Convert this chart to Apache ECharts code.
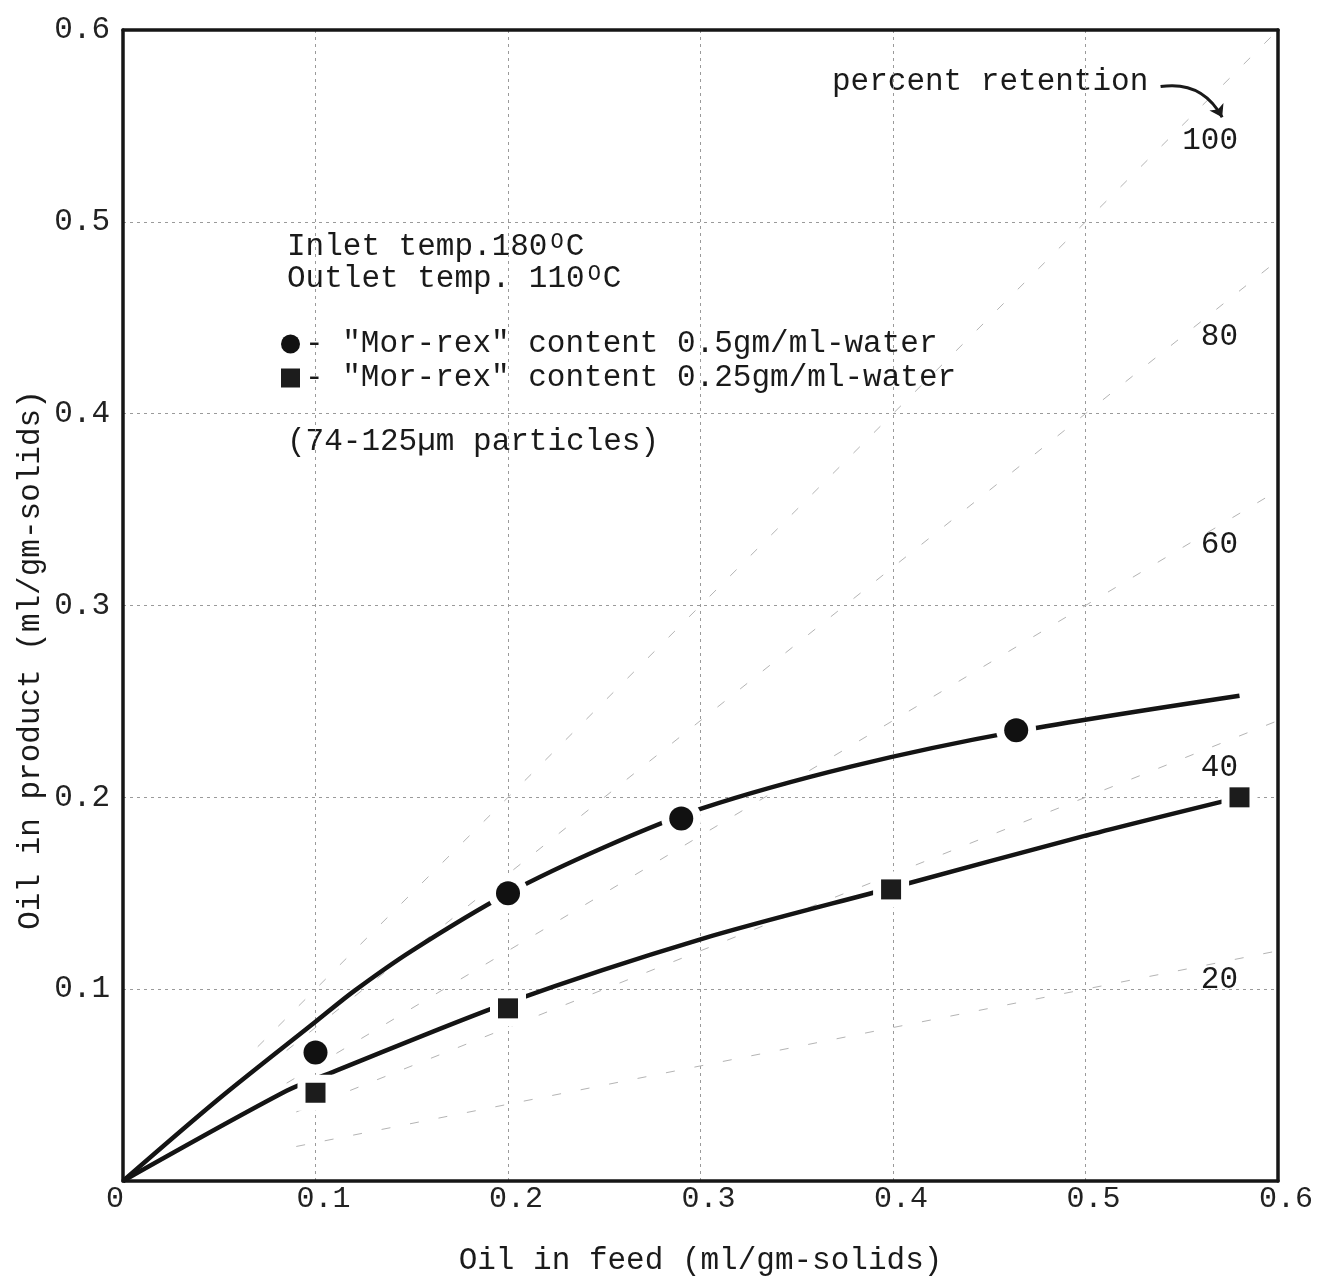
<!DOCTYPE html>
<html>
<head>
<meta charset="utf-8">
<script src="https://cdn.jsdelivr.net/npm/echarts@6/dist/echarts.min.js"></script>
<style>
  html, body { margin: 0; padding: 0; background: #fff; }
  #chart { width: 1318px; height: 1281px; }
</style>
</head>
<body>
<div id="chart"></div>
<script>
// Measured points: "Mor-rex" 0.5 gm/ml-water (circles)
const feed05 = [0.1, 0.2, 0.29, 0.464];
const prod05 = [0.067, 0.15, 0.189, 0.235];
// Measured points: "Mor-rex" 0.25 gm/ml-water (squares)
const feed025 = [0.1, 0.2, 0.399, 0.58];
const prod025 = [0.046, 0.09, 0.152, 0.2];

// Hand-fitted trend curves through each set
const curve05X = [0, 0.05, 0.1, 0.12, 0.15, 0.2, 0.25, 0.3, 0.378, 0.465, 0.58];
const curve05Y = [0, 0.043, 0.083, 0.099, 0.12, 0.15, 0.174, 0.194, 0.216, 0.2345, 0.253];
const curve025X = [0, 0.085, 0.107, 0.2, 0.3, 0.4, 0.5, 0.58];
const curve025Y = [0, 0.047, 0.056, 0.093, 0.126, 0.153, 0.18, 0.2];

// Percent-retention guide lines: product = (level / 100) * feed
const retentionLevels = [20, 40, 60, 80, 100];
const retentionStartX = [0.09, 0.09, 0.085, 0.085, 0.07];
const retentionEndX = 0.6;

// Axis ticks
const tickValues = [0, 0.1, 0.2, 0.3, 0.4, 0.5, 0.6];

const NAME05 = '"Mor-rex" content 0.5gm/ml-water';
const NAME025 = '"Mor-rex" content 0.25gm/ml-water';

const mono = '"Liberation Mono", "DejaVu Sans Mono", monospace';
const ink = '#1a1a1a';
const frame = { show: true, onZero: false, lineStyle: { color: '#161616', width: 3.5 } };

const zip = (xs, ys) => xs.map((x, i) => [x, ys[i]]);

const retentionSeries = retentionLevels.map((lvl, i) => ({
  type: 'line',
  name: 'retention ' + lvl,
  data: [
    [retentionStartX[i], lvl / 100 * retentionStartX[i]],
    [retentionEndX, lvl / 100 * retentionEndX]
  ],
  symbol: 'none',
  silent: true,
  lineStyle: { color: '#b4b4b4', width: 1, type: [9, 20] },
  z: 1
}));

const text = (x, y, str, extra) => ({
  type: 'text',
  x: x, y: y,
  silent: true,
  style: Object.assign({
    text: str,
    fontFamily: mono,
    fontSize: 31,
    fill: ink,
    align: 'left',
    verticalAlign: 'middle'
  }, extra || {})
});

const supRich = {
  a: { fontFamily: mono, fontSize: 31, fill: ink },
  s: { fontFamily: mono, fontSize: 22, fill: ink, verticalAlign: 'top', padding: [0, 2, 0, 3] }
};

const chart = echarts.init(document.getElementById('chart'), null, { renderer: 'canvas' });

const axisBase = {
  type: 'value',
  min: tickValues[0], max: tickValues[tickValues.length - 1], interval: 0.1
};

chart.setOption({
  backgroundColor: '#fff',
  animation: false,
  grid: { left: 123, right: 40, top: 30, bottom: 98 },
  xAxis: [
    Object.assign({}, axisBase, {
      position: 'bottom',
      name: 'Oil in feed (ml/gm-solids)',
      nameLocation: 'middle',
      nameGap: 64,
      nameTextStyle: { fontFamily: mono, fontSize: 31, color: ink },
      axisLine: frame,
      axisTick: { show: false },
      splitLine: { show: true, lineStyle: { color: '#9a9a9a', width: 1, type: [3, 4] } },
      axisLabel: {
        margin: 3,
        fontFamily: mono, fontSize: 30, color: '#222',
        formatter: v => v === 0 ? '{z|0}' : '{n|' + v.toFixed(1) + '}',
        rich: {
          z: { fontFamily: mono, fontSize: 30, color: '#222', padding: [0, 16, 0, 0] },
          n: { fontFamily: mono, fontSize: 30, color: '#222', padding: [0, 0, 0, 16] }
        }
      }
    }),
    Object.assign({}, axisBase, {
      position: 'top',
      axisLine: frame,
      axisTick: { show: false },
      axisLabel: { show: false },
      splitLine: { show: false }
    })
  ],
  yAxis: [
    Object.assign({}, axisBase, {
      position: 'left',
      axisLine: frame,
      axisTick: { show: false },
      splitLine: { show: true, lineStyle: { color: '#9a9a9a', width: 1, type: [3, 4] } },
      axisLabel: {
        margin: 13,
        fontFamily: mono, fontSize: 31, color: '#222',
        formatter: v => v === 0 ? '' : v.toFixed(1)
      }
    }),
    Object.assign({}, axisBase, {
      position: 'right',
      axisLine: frame,
      axisTick: { show: false },
      axisLabel: { show: false },
      splitLine: { show: false }
    })
  ],
  legend: {
    data: [
      { name: NAME05, icon: 'circle' },
      { name: NAME025, icon: 'rect' }
    ],
    orient: 'vertical',
    left: 281, top: 328,
    padding: 0,
    itemWidth: 19, itemHeight: 19,
    itemGap: 2,
    selectedMode: false,
    itemStyle: { borderWidth: 0 },
    formatter: n => '- ' + n,
    textStyle: { fontFamily: mono, fontSize: 31, color: ink, lineHeight: 32 }
  },
  series: [
    ...retentionSeries,
    {
      type: 'line',
      name: 'fit 0.5',
      data: zip(curve05X, curve05Y),
      smooth: 0.3,
      symbol: 'none',
      silent: true,
      lineStyle: { color: '#141414', width: 4.5 },
      z: 3
    },
    {
      type: 'line',
      name: 'fit 0.25',
      data: zip(curve025X, curve025Y),
      smooth: 0.3,
      symbol: 'none',
      silent: true,
      lineStyle: { color: '#141414', width: 4.5 },
      z: 3
    },
    // white clearance around the plotted points
    {
      type: 'scatter', name: 'clear 0.5', data: zip(feed05, prod05),
      symbol: 'circle', symbolSize: 40, silent: true,
      itemStyle: { color: '#fff', opacity: 1 }, z: 4
    },
    {
      type: 'scatter', name: 'clear 0.25', data: zip(feed025, prod025),
      symbol: 'rect', symbolSize: 36, silent: true,
      itemStyle: { color: '#fff', opacity: 1 }, z: 4
    },
    {
      type: 'scatter', name: NAME05, data: zip(feed05, prod05),
      symbol: 'circle', symbolSize: 24,
      itemStyle: { color: '#111', opacity: 1 }, z: 5
    },
    {
      type: 'scatter', name: NAME025, data: zip(feed025, prod025),
      symbol: 'rect', symbolSize: 20,
      itemStyle: { color: '#1c1c1c', opacity: 1 }, z: 5
    },
    // curved pointer from the "percent retention" caption to the 100 % line
    {
      type: 'lines',
      coordinateSystem: 'cartesian2d',
      silent: true,
      data: [{ coords: [[0.539, 0.5705], [0.571, 0.5545]] }],
      symbol: ['none', 'arrow'],
      symbolSize: 12,
      lineStyle: { color: '#1a1a1a', width: 3, curveness: 0.35, opacity: 1 },
      z: 6
    }
  ],
  graphic: [
    text(287, 247, '{a|Inlet temp.180}{s|O}{a|C}', { rich: supRich }),
    text(287, 279, '{a|Outlet temp. 110}{s|O}{a|C}', { rich: supRich }),
    text(287, 442, '(74-125µm particles)'),
    text(832, 82, 'percent retention'),
    text(1238, 141, '100', { align: 'right' }),
    text(1238, 337, '80', { align: 'right' }),
    text(1238, 545, '60', { align: 'right' }),
    text(1238, 768, '40', { align: 'right' }),
    text(1238, 980, '20', { align: 'right' }),
    {
      type: 'text',
      x: 31, y: 660,
      rotation: Math.PI / 2,
      silent: true,
      style: {
        text: 'Oil in product (ml/gm-solids)',
        fontFamily: mono, fontSize: 31, fill: ink,
        align: 'center', verticalAlign: 'middle'
      }
    }
  ]
});
</script>
</body>
</html>
